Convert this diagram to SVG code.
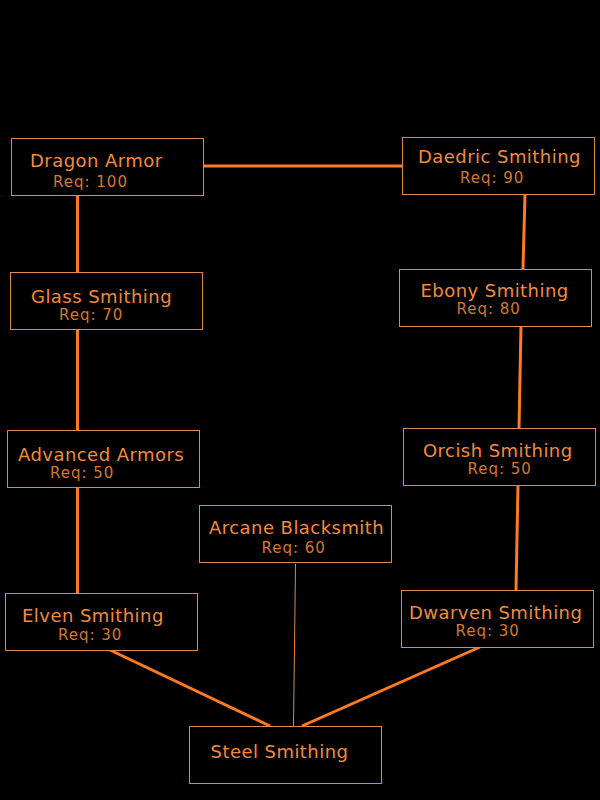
<svg xmlns="http://www.w3.org/2000/svg" width="600" height="800" viewBox="0 0 600 800">
<style>
.box{fill:#000;stroke:#e0874f;stroke-width:1}
.t{font-family:"DejaVu Sans",Verdana,sans-serif;font-size:18px;fill:#f38a3c;letter-spacing:0.45px}
.r{font-family:"DejaVu Sans",Verdana,sans-serif;font-size:15px;fill:#d4782e;letter-spacing:1px}
.c{stroke:#ff7a22;stroke-width:3;fill:none}
</style>
<defs>
<linearGradient id="g" gradientUnits="userSpaceOnUse" x1="0" y1="563" x2="0" y2="726">
<stop offset="0" stop-color="#9a9a9a"/>
<stop offset="0.5" stop-color="#ff7a22"/>
<stop offset="1" stop-color="#9a9a9a"/>
</linearGradient>
</defs>
<rect width="600" height="800" fill="#000"/>
<g id="connectors">
<line class="c" x1="203" y1="166" x2="402" y2="166"/>
<line class="c" x1="77.5" y1="195" x2="77.5" y2="272"/>
<line class="c" x1="77.5" y1="329" x2="77.5" y2="430"/>
<line class="c" x1="77.5" y1="487" x2="77.5" y2="593"/>
<line class="c" x1="110" y1="650" x2="270" y2="726"/>
<line class="c" x1="525" y1="194" x2="523" y2="269"/>
<line class="c" x1="521" y1="326" x2="519" y2="428"/>
<line class="c" x1="518" y1="485" x2="516" y2="590"/>
<line class="c" x1="480" y1="647" x2="302" y2="726"/>
<line x1="295.5" y1="564" x2="293.5" y2="726" stroke="url(#g)" stroke-width="1"/>
</g>
<g id="dragon-armor"><rect class="box" x="11.5" y="138.5" width="192" height="57"/><text class="t" x="30" y="167">Dragon Armor</text><text class="r" x="53" y="187">Req: 100</text></g>
<g id="daedric-smithing"><rect class="box" x="402.5" y="137.5" width="192" height="57"/><text class="t" x="418" y="162.5">Daedric Smithing</text><text class="r" x="460" y="183">Req: 90</text></g>
<g id="glass-smithing"><rect class="box" x="10.5" y="272.5" width="192" height="57"/><text class="t" x="31" y="302.5">Glass Smithing</text><text class="r" x="59" y="319.5">Req: 70</text></g>
<g id="ebony-smithing"><rect class="box" x="399.5" y="269.5" width="192" height="57"/><text class="t" x="420.5" y="296.5">Ebony Smithing</text><text class="r" x="456.5" y="314">Req: 80</text></g>
<g id="advanced-armors"><rect class="box" x="7.5" y="430.5" width="192" height="57"/><text class="t" x="18" y="460.5">Advanced Armors</text><text class="r" x="50" y="477.5">Req: 50</text></g>
<g id="orcish-smithing"><rect class="box" x="403.5" y="428.5" width="192" height="57"/><text class="t" x="423" y="456.5">Orcish Smithing</text><text class="r" x="467.5" y="474">Req: 50</text></g>
<g id="arcane-blacksmith"><rect class="box" x="199.5" y="505.5" width="192" height="57"/><text class="t" x="209" y="534">Arcane Blacksmith</text><text class="r" x="261.5" y="552.5">Req: 60</text></g>
<g id="elven-smithing"><rect class="box" x="5.5" y="593.5" width="192" height="57"/><text class="t" x="22" y="621.5">Elven Smithing</text><text class="r" x="58" y="640">Req: 30</text></g>
<g id="dwarven-smithing"><rect class="box" x="401.5" y="590.5" width="192" height="57"/><text class="t" x="409" y="618.5">Dwarven Smithing</text><text class="r" x="455.5" y="635.5">Req: 30</text></g>
<g id="steel-smithing"><rect class="box" x="189.5" y="726.5" width="192" height="57"/><text class="t" x="210.5" y="758">Steel Smithing</text></g>
</svg>
